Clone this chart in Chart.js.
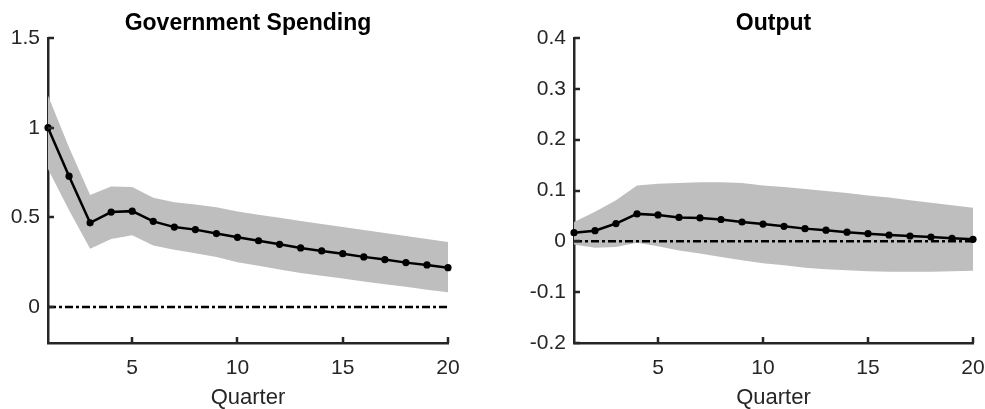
<!DOCTYPE html>
<html>
<head>
<meta charset="utf-8">
<script src="https://cdn.jsdelivr.net/npm/chart.js@4.4.1/dist/chart.umd.min.js"></script>
<style>
    html, body { margin: 0; padding: 0; background: #fff; overflow: hidden; }
    #left { position: absolute; left: 0; top: 0; width: 490px; height: 409px; }
    #right { position: absolute; left: 490px; top: 0; width: 540px; height: 409px; }
</style>
</head>
<body>
<div id="left"><canvas id="gsChart"></canvas></div>
<div id="right"><canvas id="outChart"></canvas></div>
<script>
// Horizonte (trimestres)
const quarters = [1, 2, 3, 4, 5, 6, 7, 8, 9, 10, 11, 12, 13, 14, 15, 16, 17, 18, 19, 20];
const quarterTicks = [5, 10, 15, 20];

// Government Spending
const gsIrf = [1.00, 0.73, 0.47, 0.53, 0.535, 0.478, 0.446, 0.432, 0.41, 0.389,
               0.37, 0.35, 0.33, 0.313, 0.298, 0.28, 0.265, 0.248, 0.235, 0.22];
const gsUpper = [1.18, 0.89, 0.625, 0.672, 0.67, 0.61, 0.585, 0.572, 0.557, 0.533,
                 0.515, 0.498, 0.48, 0.463, 0.446, 0.43, 0.413, 0.396, 0.38, 0.363];
const gsLower = [0.77, 0.54, 0.326, 0.38, 0.40, 0.344, 0.32, 0.30, 0.28, 0.25,
                 0.23, 0.21, 0.19, 0.175, 0.16, 0.143, 0.128, 0.113, 0.097, 0.083];
const gsTicks = [0, 0.5, 1, 1.5];

// Output
const outIrf = [0.017, 0.021, 0.035, 0.054, 0.052, 0.047, 0.046, 0.043, 0.038, 0.034,
                0.0295, 0.025, 0.022, 0.018, 0.015, 0.0125, 0.0105, 0.0085, 0.006, 0.004];
const outUpper = [0.038, 0.058, 0.081, 0.110, 0.1135, 0.115, 0.116, 0.116, 0.115, 0.110,
                  0.107, 0.103, 0.099, 0.095, 0.090, 0.086, 0.081, 0.076, 0.071, 0.066];
const outLower = [-0.006, -0.0125, -0.011, -0.003, -0.0098, -0.018, -0.024, -0.031, -0.037, -0.043,
                  -0.047, -0.052, -0.055, -0.057, -0.059, -0.060, -0.060, -0.060, -0.059, -0.058];
const outTicks = [-0.2, -0.1, 0, 0.1, 0.2, 0.3, 0.4];

const zeroLevel = 0;

const axisColor = '#262626';
const bandColor = '#bebebe';
const fontFamily = "'Liberation Sans', Arial, Helvetica, sans-serif";

// ticks para dentro, como no MATLAB
const innerTicks = {
    id: 'innerTicks',
    afterDraw(chart) {
        const { ctx, chartArea, scales } = chart;
        ctx.save();
        ctx.strokeStyle = axisColor;
        ctx.lineWidth = 2.5;
        ctx.beginPath();
        scales.x.ticks.forEach(t => {
            const px = Math.round(scales.x.getPixelForValue(t.value));
            ctx.moveTo(px, chartArea.bottom);
            ctx.lineTo(px, chartArea.bottom - 6);
        });
        scales.y.ticks.forEach(t => {
            const py = Math.round(scales.y.getPixelForValue(t.value));
            ctx.moveTo(chartArea.left, py);
            ctx.lineTo(chartArea.left + 6, py);
        });
        ctx.stroke();
        ctx.restore();
    }
};

function toPoints(values) {
    return quarters.map((q, i) => ({ x: q, y: values[i] }));
}

function makePanel(canvasId, title, irf, upper, lower, yMin, yMax, yTicks, yWidth, padRight) {
    const ctx = document.getElementById(canvasId).getContext('2d');
    return new Chart(ctx, {
        type: 'line',
        data: {
            datasets: [
                {
                    data: toPoints(irf),
                    borderColor: '#000',
                    backgroundColor: '#000',
                    borderWidth: 2.5,
                    pointRadius: 3.6,
                    pointBorderWidth: 0,
                    tension: 0,
                    clip: false,
                    order: 0
                },
                {
                    data: quarters.map(q => ({ x: q, y: zeroLevel })),
                    borderColor: '#000',
                    borderWidth: 2.5,
                    borderDash: [8, 3, 3, 3],
                    pointRadius: 0,
                    order: 1
                },
                {
                    data: toPoints(upper),
                    borderWidth: 0,
                    pointRadius: 0,
                    backgroundColor: bandColor,
                    fill: '+1',
                    order: 2
                },
                {
                    data: toPoints(lower),
                    borderWidth: 0,
                    pointRadius: 0,
                    fill: false,
                    order: 3
                }
            ]
        },
        options: {
            responsive: true,
            maintainAspectRatio: false,
            animation: false,
            layout: {
                padding: { left: 0, right: padRight, top: 0, bottom: 0 }
            },
            scales: {
                x: {
                    type: 'linear',
                    min: 1,
                    max: 20,
                    z: 1,
                    afterBuildTicks: s => { s.ticks = quarterTicks.map(v => ({ value: v })); },
                    afterFit: s => { s.height = 66; },
                    grid: { display: false, drawTicks: false },
                    border: { display: true, color: axisColor, width: 2.5 },
                    ticks: {
                        color: axisColor,
                        padding: 13,
                        maxRotation: 0,
                        font: { size: 21, family: fontFamily }
                    },
                    title: {
                        display: true,
                        text: 'Quarter',
                        color: axisColor,
                        padding: 0,
                        font: { size: 22, family: fontFamily, lineHeight: 1 }
                    }
                },
                y: {
                    min: yMin,
                    max: yMax,
                    z: 1,
                    afterBuildTicks: s => { s.ticks = yTicks.map(v => ({ value: v })); },
                    afterFit: s => { s.width = yWidth; },
                    grid: { display: false, drawTicks: false },
                    border: { display: true, color: axisColor, width: 2.5 },
                    ticks: {
                        color: axisColor,
                        padding: 8,
                        font: { size: 21, family: fontFamily },
                        callback: v => String(v)
                    }
                }
            },
            plugins: {
                title: {
                    display: true,
                    text: title,
                    fullSize: false,
                    color: '#000',
                    font: { size: 23, weight: 'bold', family: fontFamily, lineHeight: 1.2 },
                    padding: { top: 10, bottom: 0.4 }
                },
                legend: { display: false },
                tooltip: { enabled: false }
            }
        },
        plugins: [innerTicks]
    });
}

makePanel('gsChart', 'Government Spending', gsIrf, gsUpper, gsLower, -0.2, 1.5, gsTicks, 48, 42);
makePanel('outChart', 'Output', outIrf, outUpper, outLower, -0.2, 0.4, outTicks, 84, 57);
</script>
</body>
</html>
